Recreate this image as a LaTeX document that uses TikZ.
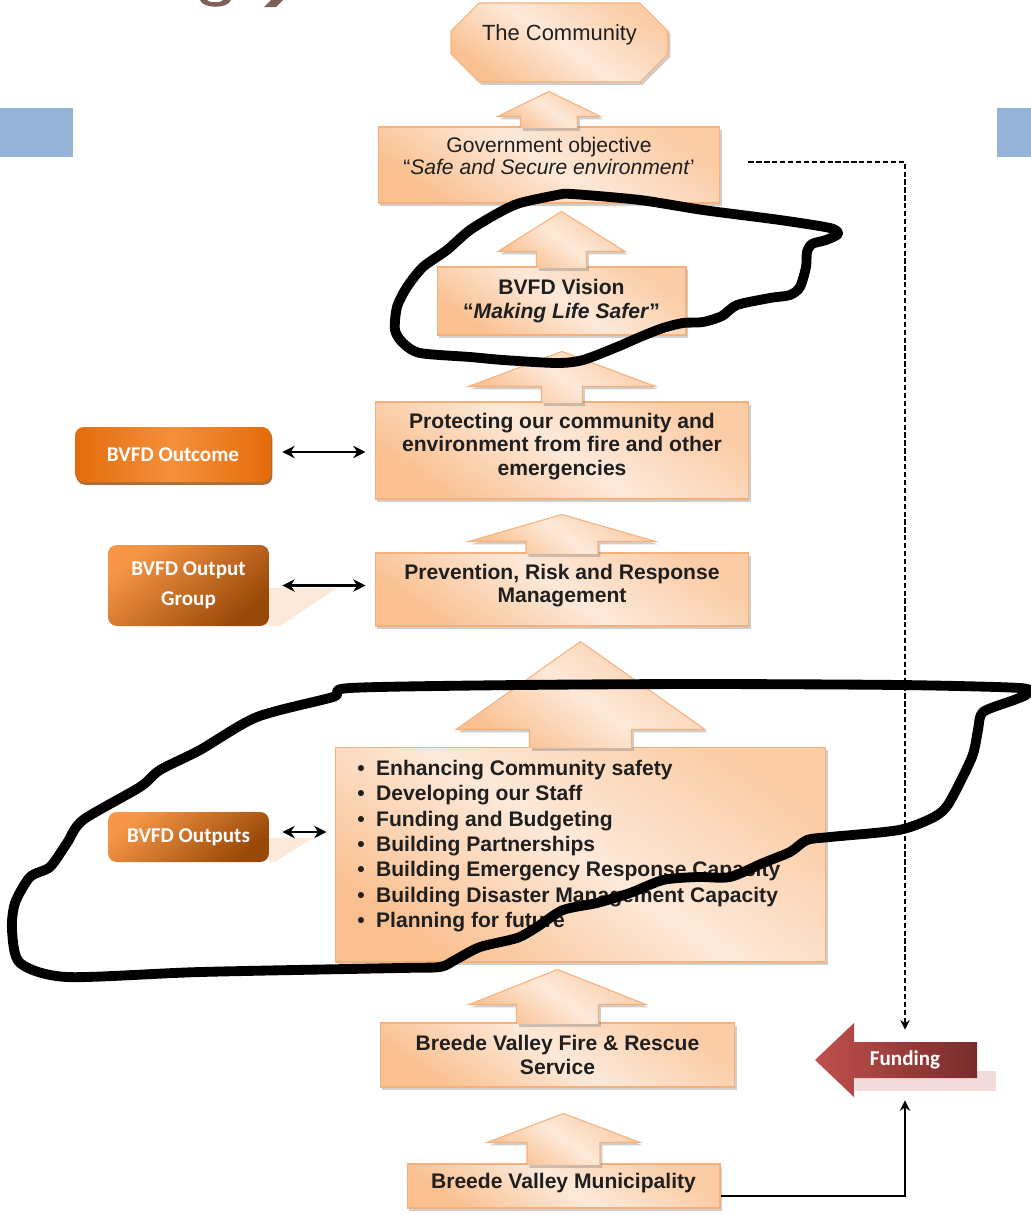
\documentclass[tikz,border=0pt]{standalone}
\usepackage{fontspec}
\setmainfont{Liberation Sans}
\newfontfamily\calibri{Carlito}
\usetikzlibrary{calc,shadows,arrows.meta}

\definecolor{peachdark}{HTML}{FAC090}
\definecolor{peachlight}{HTML}{FDE9D9}
\definecolor{peachline}{HTML}{F7B07A}
\definecolor{orangemain}{HTML}{E46C0A}
\definecolor{orangelight}{HTML}{F79646}
\definecolor{orangebrown}{HTML}{984807}
\definecolor{fundleft}{HTML}{C0504D}
\definecolor{fundright}{HTML}{772C2A}
\definecolor{fundshadow}{HTML}{F2DCDB}
\definecolor{slideblue}{HTML}{95B3D7}
\definecolor{titlebrown}{HTML}{7F6056}

\tikzset{
	peachbox/.style={draw=peachline, line width=0.6pt, top color=peachdark!70!peachlight, bottom color=peachdark, middle color=peachlight, shading angle=-35, drop shadow={shadow xshift=1.4pt, shadow yshift=-1.6pt, fill=black!55, opacity=0.35}},
	boxtxt/.style={font=\fontsize{12}{13.3}\selectfont\bfseries, align=center, inner sep=0pt, text=black!88},
	listtxt/.style={font=\fontsize{12}{14.4}\selectfont\bfseries, align=left, inner sep=0pt, text=black!88},
	sidebox/.style={rounded corners=5pt, inner sep=0pt, text=white, align=center, font=\calibri\fontsize{12}{17}\selectfont\bfseries},
	twoway/.style={line width=1.2pt, {Stealth[length=7pt,width=7pt]}-{Stealth[length=7pt,width=7pt]}},
	dashlink/.style={line width=0.6pt, dash pattern=on 3pt off 1.5pt, -{Stealth[length=5.5pt,width=5.5pt]}},
	solidlink/.style={line width=1.2pt, -{Stealth[length=6pt,width=6pt]}},
	scribble/.style={line width=5.6pt, line join=round, black}
}

% #1 node, #2 shaft half width, #3 shaft length, #4 head half width, #5 head length
\newcommand{\upblock}[5]{%
	\path[peachbox] ($(#1.north)+(-#2,1.5)$) -- ++(0,-#3-1.5) -- ++(#2-#4,0) -- ++(#4,-#5) -- ++(#4,#5) -- ++(#2-#4,0) -- ++(0,#3+1.5);
}

\begin{document}
\begin{tikzpicture}[x=0.02cm, y=-0.02cm]
		\useasboundingbox (0,0) rectangle (1031,1215);
		
		\fill[titlebrown] (200,0) .. controls (203,9) and (228,9) .. (231,0) -- (223,0) .. controls (221,3) and (209,3) .. (207,0) -- cycle;
		\fill[titlebrown] (271,0) -- (283,0) -- (276,7) -- (264,7) -- cycle;
		\fill[slideblue] (0,108) rectangle (73,157);
		\fill[slideblue] (997,108) rectangle (1031,157);
		
		\path[peachbox] (479,3) -- (640,3) -- (668,31) -- (668,54) -- (640,82) -- (479,82) -- (451,54) -- (451,31) -- cycle;
		\node[boxtxt, font=\fontsize{12.5}{13}\selectfont] (comm) at (559.5,35) {The Community};
		
		\node[peachbox, minimum width=6.84cm, minimum height=1.52cm] (gov) at (549,165) {};
		\node[boxtxt, font=\fontsize{12}{13}\selectfont] (govtxt) at ([yshift=0.18cm]gov.center) {Government objective\\“\textit{Safe and Secure environment}’};
		\node[peachbox, boxtxt, minimum width=4.98cm, minimum height=1.36cm] (vision) at (561.5,301) {BVFD Vision\\“\textit{Making Life Safer}”};
		\node[peachbox, minimum width=7.48cm, minimum height=1.94cm] (prot) at (562,450.5) {};
		\node[boxtxt] (prottxt) at ([yshift=0.08cm]prot.center) {Protecting our community and\\environment from fire and other\\emergencies};
		\node[peachbox, minimum width=7.48cm, minimum height=1.46cm] (prev) at (562,589.5) {};
		\node[boxtxt] (prevtxt) at ([yshift=0.08cm]prev.center) {Prevention, Risk and Response\\Management};
		\node[peachbox, minimum width=9.82cm, minimum height=4.3cm] (outs) at (580.5,854.5) {};
		\node[listtxt, anchor=west] (outslist) at (357,846) {\textbullet\hspace{6.5pt}Enhancing Community safety\\\textbullet\hspace{6.5pt}Developing our Staff\\\textbullet\hspace{6.5pt}Funding and Budgeting\\\textbullet\hspace{6.5pt}Building Partnerships\\\textbullet\hspace{6.5pt}Building Emergency Response Capacity\\\textbullet\hspace{6.5pt}Building Disaster Management Capacity\\\textbullet\hspace{6.5pt}Planning for future};
		\node[peachbox, boxtxt, minimum width=7.1cm, minimum height=1.28cm] (fire) at (557.5,1055) {Breede Valley Fire \& Rescue\\Service};
		\node[peachbox, minimum width=6.26cm, minimum height=0.88cm] (muni) at (563.5,1186) {};
		\node[boxtxt] (munitxt) at ([yshift=0.05cm]muni.center) {Breede Valley Municipality};
		
		\upblock{gov}{28.5}{10}{51.5}{25}
		\upblock{vision}{25}{15}{63.5}{40}
		\upblock{prot}{20.5}{15}{93.5}{35}
		\upblock{prev}{36}{11}{93.5}{27}
		\upblock{outs}{51}{17}{124.5}{88}
		\upblock{fire}{41}{18}{88.5}{35}
		\upblock{muni}{36.5}{21}{76.5}{29}
		
		\fill[peachlight] (269,588) -- (337,588) -- (280,626) -- (269,626) -- cycle;
		\fill[peachlight] (269,838) -- (313,838) -- (275,862) -- (269,862) -- cycle;
		\node[sidebox, left color=orangemain, right color=orangemain, middle color=orangelight!85!orangemain, drop shadow={shadow xshift=0.8pt, shadow yshift=-1.6pt, fill=orangebrown, opacity=0.8}, minimum width=3.92cm, minimum height=1.1cm] (outc) at (173,454.5) {BVFD Outcome};
		\node[sidebox, top color=orangelight, bottom color=orangebrown, shading angle=40, minimum width=3.22cm, minimum height=1.62cm] (ogrp) at (188.5,585.5) {BVFD Output\\Group};
		\node[sidebox, top color=orangelight, bottom color=orangebrown, shading angle=40, minimum width=3.22cm, minimum height=1cm] (outp) at (188.5,837) {BVFD Outputs};
		
		\draw[twoway, shorten <=0.22cm, shorten >=0.18cm] ([yshift=0.05cm]outc.east) -- ([yshift=0.05cm]outc.east -| prot.west);
		\draw[twoway, shorten <=0.26cm, shorten >=0.18cm] (ogrp.east) -- (ogrp.east -| prev.west);
		\draw[twoway, shorten <=0.26cm, shorten >=0.16cm] ([yshift=0.1cm]outp.east) -- ([yshift=0.1cm]outp.east -| outs.west);
		
		\fill[fundshadow] (855,1071) rectangle (996,1091);
		\path[left color=fundleft, right color=fundright] (815,1060) -- (854,1023) -- (854,1042) -- (977,1042) -- (977,1078) -- (854,1078) -- (854,1097) -- cycle;
		\node[font=\calibri\fontsize{12}{14}\selectfont\bfseries, text=white, minimum height=1.2cm, inner sep=0pt] (fund) at (905,1060) {Funding};
		
		\draw[dashlink] ([xshift=0.56cm,yshift=0.06cm]gov.east) -| (fund.north);
		\draw[solidlink, shorten >=0.2cm] ([yshift=-0.2cm]muni.east) -| (fund.south);
		
		\draw[scribble] plot[smooth cycle, tension=0.45] coordinates {(520,203) (557,195) (572,194) (640,200) (703,210) (780,220) (830,228) (838,234) (826,240) (812,244) (807,252) (806,267) (800,287) (790,295) (770,298) (737,305) (722,316) (703,322) (683,323) (663,328) (640,337) (617,347) (583,360) (557,363) (503,360) (470,357) (420,353) (403,343) (395,330) (397,307) (407,287) (423,267) (447,250) (470,230) (500,212)};
		\draw[scribble] plot[smooth cycle, tension=0.45] coordinates {(350,688) (520,685) (700,684) (900,685) (1020,688) (1027,694) (1014,700) (983,712) (978,730) (972,757) (949,803) (934,817) (899,830) (830,837) (807,840) (790,852) (763,863) (730,877) (697,877) (663,880) (630,893) (597,903) (563,910) (537,927) (517,938) (480,947) (455,960) (440,967) (400,968) (200,972) (67,977) (20,963) (12,930) (15,903) (30,877) (50,867) (67,843) (83,820) (140,787) (160,770) (200,750) (257,717) (333,697)};
	\end{tikzpicture}
\end{document}
